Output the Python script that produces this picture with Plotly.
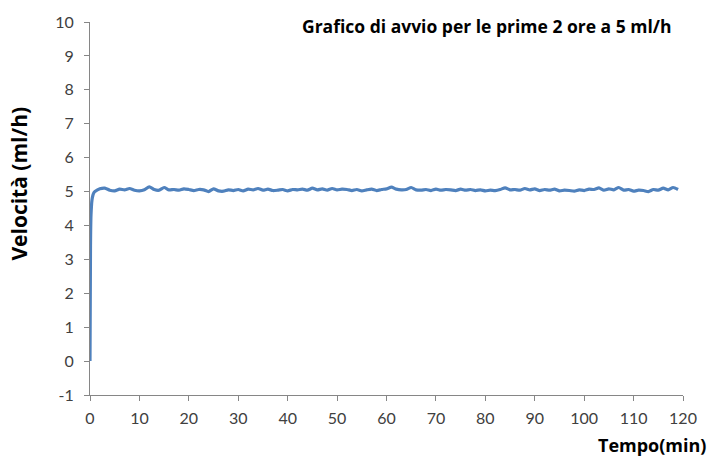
import plotly.graph_objects as go

# Start-up ramp (minutes, ml/h)
ramp_t = [0, 0.1, 0.2, 0.4, 0.6, 0.8]
ramp_v = [0.0, 3.4, 4.3, 4.75, 4.9, 4.97]

# Steady-state readings, one per minute from 1 to 120
steady_t = list(range(1, 121))
steady_v = [
    5.00, 5.08, 5.10, 5.04, 5.02, 5.07, 5.05, 5.09, 5.04, 5.02,
    5.05, 5.14, 5.06, 5.04, 5.12, 5.05, 5.06, 5.04, 5.08, 5.06,
    5.03, 5.06, 5.05, 5.00, 5.08, 5.02, 5.01, 5.05, 5.03, 5.06,
    5.02, 5.07, 5.05, 5.09, 5.04, 5.07, 5.03, 5.04, 5.06, 5.02,
    5.06, 5.05, 5.07, 5.04, 5.10, 5.05, 5.08, 5.04, 5.09, 5.05,
    5.07, 5.06, 5.03, 5.06, 5.02, 5.05, 5.07, 5.03, 5.06, 5.08,
    5.13, 5.07, 5.05, 5.06, 5.12, 5.05, 5.04, 5.06, 5.03, 5.07,
    5.04, 5.06, 5.05, 5.03, 5.07, 5.04, 5.06, 5.03, 5.05, 5.02,
    5.04, 5.03, 5.06, 5.11, 5.05, 5.06, 5.04, 5.09, 5.05, 5.08,
    5.03, 5.06, 5.04, 5.07, 5.02, 5.04, 5.03, 5.01, 5.05, 5.03,
    5.07, 5.06, 5.11, 5.04, 5.08, 5.05, 5.12, 5.04, 5.06, 5.01,
    5.04, 5.03, 5.00, 5.06, 5.04, 5.10, 5.05, 5.12, 5.06, 5.05,
]

x_ticks = list(range(0, 121, 10))
y_ticks = list(range(-1, 11))
y_tick_labels = [str(v) for v in y_ticks]

title_text = "Grafico di avvio per le prime 2 ore a 5 ml/h"
x_title = "Tempo(min)"
y_title = "Velocità (ml/h)"

tick_font = "Lato, 'Open Sans', sans-serif"
label_font = "'Open Sans', Lato, sans-serif"

fig = go.Figure()
fig.add_trace(go.Scatter(
    x=ramp_t + steady_t[:-1],
    y=ramp_v + steady_v[:-1],
    mode="lines",
    line=dict(color="#4F81BD", width=3.2, shape="spline", smoothing=0.6),
    showlegend=False,
    hoverinfo="skip",
))

axis_common = dict(
    showgrid=False,
    zeroline=False,
    showline=True,
    linecolor="#868686",
    linewidth=1,
    ticks="outside",
    ticklen=5,
    tickcolor="#868686",
    tickfont=dict(family=tick_font, size=16, color="#404040"),
)

fig.update_layout(
    width=709,
    height=457,
    margin=dict(l=90, r=16, t=18, b=62),
    paper_bgcolor="white",
    plot_bgcolor="white",
    xaxis=dict(range=[0, 120], tickvals=x_ticks, ticklabelstandoff=4, **axis_common),
    yaxis=dict(range=[-1, 10], tickvals=y_ticks, ticktext=y_tick_labels,
               ticklabelstandoff=7, **axis_common),
    annotations=[
        dict(text="<b>" + title_text + "</b>", xref="paper", yref="paper",
             x=0.985, y=0.988, xanchor="right", yanchor="middle", showarrow=False,
             font=dict(family=label_font, size=17.5, color="#000000")),
        dict(text="<b>" + y_title + "</b>", xref="paper", yref="paper",
             x=-0.119, y=0.568, xanchor="center", yanchor="middle", textangle=-90,
             showarrow=False,
             font=dict(family=label_font, size=21, color="#000000")),
        dict(text="<b>" + x_title + "</b>", xref="paper", yref="paper",
             x=1.043, y=-0.133, xanchor="right", yanchor="middle", showarrow=False,
             font=dict(family=label_font, size=18, color="#000000")),
    ],
)

fig.write_html("out.html")
